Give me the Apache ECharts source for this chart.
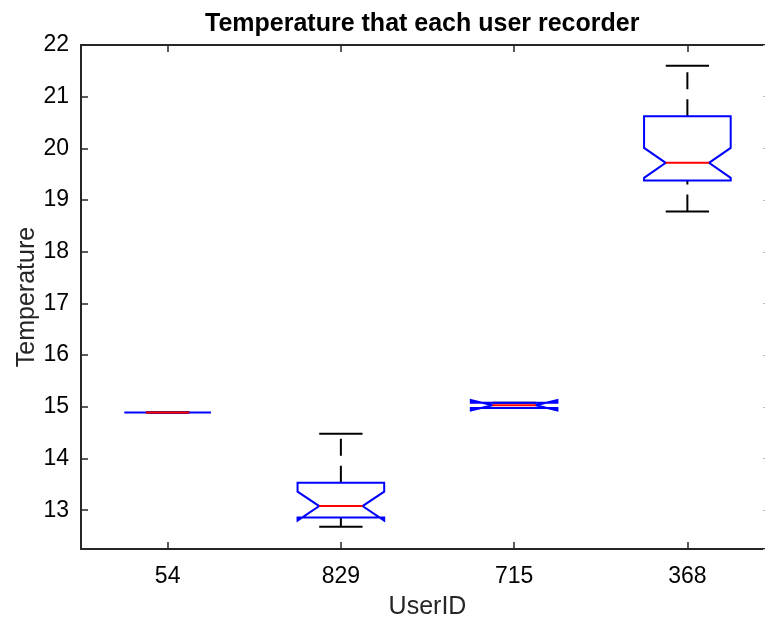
<!DOCTYPE html>
<html>
<head>
<meta charset="utf-8">
<script src="https://cdn.jsdelivr.net/npm/echarts@6/dist/echarts.min.js"></script>
<style>
  html, body { margin: 0; padding: 0; background: #ffffff; }
  #chart { width: 765px; height: 619px; }
</style>
</head>
<body>
<div id="chart"></div>
<script>
// Per-user temperature summaries (notched box plot statistics)
const categories  = ['54', '829', '715', '368'];
const whiskerLow  = [14.89, 12.68, 14.98, 18.78];
const q1          = [14.89, 12.86, 14.98, 19.38];
const notchLow    = [14.89, 12.80, 14.93, 19.43];
const median      = [14.89, 13.08, 15.03, 19.72];
const notchHigh   = [14.89, 13.36, 15.13, 20.01];
const q3          = [14.89, 13.53, 15.08, 20.62];
const whiskerHigh = [14.89, 14.48, 15.08, 21.60];

const yTicksMin = 12.25;
const yTicksMax = 22;

const AXIS_COLOR = '#262626';
const FONT = '"Liberation Sans", Arial, Helvetica, sans-serif';

const boxData = categories.map((c, i) => [
  i, whiskerLow[i], q1[i], notchLow[i], median[i], notchHigh[i], q3[i], whiskerHigh[i]
]);

function renderBox(params, api) {
  const idx = api.value(0);
  const bandW = api.size([1, 0])[0];
  const w = bandW * 0.25;      // half box width
  const nw = bandW * 0.125;    // half notch / cap width
  const pt = (v) => api.coord([idx, v]);
  const cx = pt(api.value(4))[0];
  const y = (v) => pt(v)[1];

  const yWLo = y(api.value(1));
  const yQ1 = y(api.value(2));
  const yNLo = y(api.value(3));
  const yMed = y(api.value(4));
  const yNHi = y(api.value(5));
  const yQ3 = y(api.value(6));
  const yWHi = y(api.value(7));

  const whiskerStyle = { stroke: '#000000', lineWidth: 2, lineDash: [17, 10], fill: null };
  const capStyle = { stroke: '#000000', lineWidth: 2, fill: null };

  return {
    type: 'group',
    children: [
      { type: 'line', shape: { x1: cx, y1: yQ3, x2: cx, y2: yWHi }, style: whiskerStyle },
      { type: 'line', shape: { x1: cx, y1: yWLo, x2: cx, y2: yQ1 }, style: whiskerStyle },
      { type: 'line', shape: { x1: cx - nw, y1: yWHi, x2: cx + nw, y2: yWHi }, style: capStyle },
      { type: 'line', shape: { x1: cx - nw, y1: yWLo, x2: cx + nw, y2: yWLo }, style: capStyle },
      {
        type: 'polygon',
        shape: {
          points: [
            [cx - w, yQ1], [cx - w, yNLo], [cx - nw, yMed], [cx - w, yNHi], [cx - w, yQ3],
            [cx + w, yQ3], [cx + w, yNHi], [cx + nw, yMed], [cx + w, yNLo], [cx + w, yQ1]
          ]
        },
        style: { stroke: '#0000ff', lineWidth: 2, fill: null, lineJoin: 'miter' }
      },
      {
        type: 'line',
        shape: { x1: cx - nw, y1: yMed, x2: cx + nw, y2: yMed },
        style: { stroke: '#ff0000', lineWidth: 2 }
      }
    ]
  };
}

const chart = echarts.init(document.getElementById('chart'), null, { renderer: 'canvas' });

const valueAxisBase = {
  type: 'value',
  min: yTicksMin,
  max: yTicksMax,
  minInterval: 1,
  maxInterval: 1,
  splitNumber: 10,
  splitLine: { show: false },
  axisLine: { show: true, onZero: false, lineStyle: { color: AXIS_COLOR, width: 2 } },
  axisTick: { show: true, inside: true, length: 7, lineStyle: { color: AXIS_COLOR, width: 1.5 } }
};

chart.setOption({
  animation: false,
  backgroundColor: '#ffffff',
  title: {
    text: 'Temperature that each user recorder',
    left: 205,
    top: 12,
    padding: 0,
    textStyle: { fontFamily: FONT, fontSize: 25, fontWeight: 'bold', color: '#000000' }
  },
  grid: { left: 81, width: 693, top: 45, bottom: 70, containLabel: false, outerBoundsMode: 'none' },
  xAxis: [
    {
      type: 'category',
      data: categories,
      position: 'bottom',
      boundaryGap: true,
      name: 'UserID',
      nameLocation: 'middle',
      nameGap: 46,
      nameMoveOverlap: false,
      nameTextStyle: { fontFamily: FONT, fontSize: 25, color: AXIS_COLOR },
      axisLine: { show: true, onZero: false, lineStyle: { color: AXIS_COLOR, width: 2 } },
      axisTick: { show: true, inside: true, alignWithLabel: true, length: 7, lineStyle: { color: AXIS_COLOR, width: 1.5 } },
      axisLabel: { fontFamily: FONT, fontSize: 23, color: '#000000', margin: 16 },
      splitLine: { show: false }
    },
    {
      type: 'category',
      data: categories,
      position: 'top',
      boundaryGap: true,
      axisLine: { show: true, onZero: false, lineStyle: { color: AXIS_COLOR, width: 2 } },
      axisTick: { show: true, inside: true, alignWithLabel: true, length: 7, lineStyle: { color: AXIS_COLOR, width: 1.5 } },
      axisLabel: { show: false },
      splitLine: { show: false }
    }
  ],
  yAxis: [
    Object.assign({}, valueAxisBase, {
      position: 'left',
      name: 'Temperature',
      nameLocation: 'middle',
      nameGap: 41,
      nameMoveOverlap: false,
      nameTextStyle: { fontFamily: FONT, fontSize: 25, color: AXIS_COLOR },
      axisLabel: { fontFamily: FONT, fontSize: 23, color: '#000000', margin: 12, showMinLabel: false }
    }),
    Object.assign({}, valueAxisBase, {
      position: 'right',
      axisTick: { show: true, inside: true, length: 11, lineStyle: { color: '#bbbbbb', width: 1 } },
      axisLabel: { show: false }
    })
  ],
  series: [
    {
      type: 'custom',
      xAxisIndex: 0,
      yAxisIndex: 0,
      renderItem: renderBox,
      encode: { x: 0, y: [1, 2, 3, 4, 5, 6, 7] },
      data: boxData,
      clip: false
    }
  ]
});
</script>
</body>
</html>
